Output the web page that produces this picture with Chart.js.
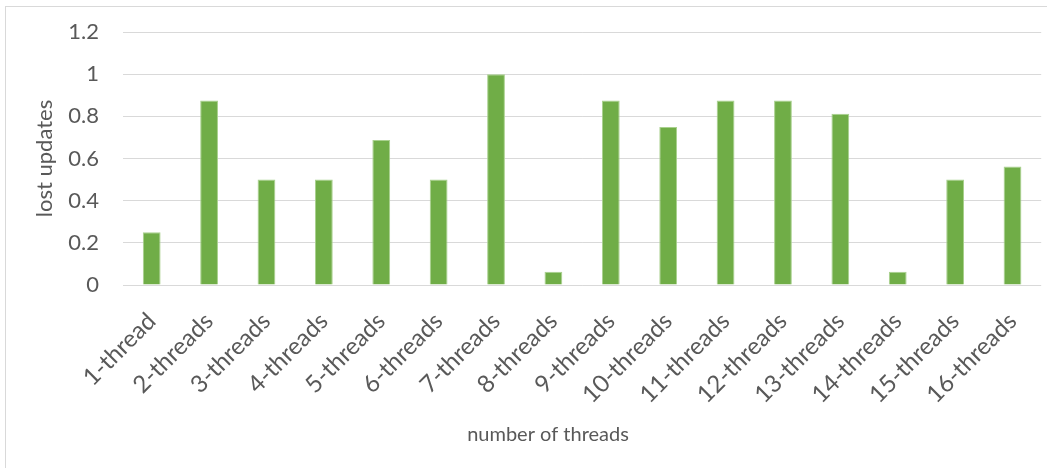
<!DOCTYPE html>
<html>
<head>
<meta charset="utf-8">
<script src="https://cdn.jsdelivr.net/npm/chart.js@4.4.0/dist/chart.umd.min.js"></script>
<style>
  html, body { margin: 0; padding: 0; background: #fff; }
  #wrap { position: relative; width: 1047px; height: 468px; }
</style>
</head>
<body>
<div id="wrap"><canvas id="chart"></canvas></div>
<script>
// data
const categories = [
    '1-thread', '2-threads', '3-threads', '4-threads', '5-threads', '6-threads',
    '7-threads', '8-threads', '9-threads', '10-threads', '11-threads', '12-threads',
    '13-threads', '14-threads', '15-threads', '16-threads'
];
const lostUpdates = [
    0.25, 0.875, 0.5, 0.5, 0.6875, 0.5, 1, 0.0625,
    0.875, 0.75, 0.875, 0.875, 0.8125, 0.0625, 0.5, 0.5625
];
const yTicks = [0, 0.2, 0.4, 0.6, 0.8, 1, 1.2];
const yTitle = 'lost updates';
const xTitle = 'number of threads';

const TEXT = '#595959';
const GRID = '#d9d9d9';
const FONT = 'Lato';

// white page with the thin grey frame round the chart
const framePlugin = {
    id: 'frame',
    beforeDraw(chart) {
        const ctx = chart.ctx;
        ctx.save();
        ctx.fillStyle = '#fff';
        ctx.fillRect(0, 0, chart.width, chart.height);
        ctx.strokeStyle = GRID;
        ctx.lineWidth = 1;
        ctx.strokeRect(5.5, 6.5, chart.width + 10, chart.height + 10);
        ctx.restore();
    }
};

// axis titles are placed by hand, like Excel does
const axisTitlesPlugin = {
    id: 'axisTitles',
    afterDraw(chart) {
        const ctx = chart.ctx;
        const area = chart.chartArea;
        ctx.save();
        ctx.fillStyle = TEXT;
        ctx.textAlign = 'center';
        ctx.textBaseline = 'middle';

        ctx.font = `20px ${FONT}`;
        ctx.fillText(xTitle, 548, 435);

        ctx.font = `22px ${FONT}`;
        ctx.translate(45, (area.top + area.bottom) / 2);
        ctx.rotate(-Math.PI / 2);
        ctx.fillText(yTitle, 0, 0);
        ctx.restore();
    }
};

const ctx = document.getElementById('chart').getContext('2d');
new Chart(ctx, {
    type: 'bar',
    data: {
        labels: categories,
        datasets: [{
            data: lostUpdates,
            backgroundColor: '#70ad47',
            borderColor: '#a9d18e',
            borderWidth: 1,
            categoryPercentage: 1,
            barPercentage: 0.31
        }]
    },
    options: {
        responsive: true,
        maintainAspectRatio: false,
        animation: false,
        layout: {
            padding: { top: 32, right: 4, bottom: 0, left: 0 }
        },
        plugins: {
            legend: { display: false },
            tooltip: { enabled: false }
        },
        scales: {
            x: {
                grid: { display: false },
                border: { display: false },
                ticks: {
                    autoSkip: false,
                    minRotation: 45,
                    maxRotation: 45,
                    padding: 14,
                    color: TEXT,
                    font: { family: FONT, size: 24 }
                },
                afterFit: (scale) => { scale.height = 183; }
            },
            y: {
                min: 0,
                max: 1.2,
                grid: {
                    color: GRID,
                    lineWidth: 1,
                    drawTicks: true,
                    tickLength: 8,
                    tickColor: 'rgba(0,0,0,0)'
                },
                border: { display: false },
                afterBuildTicks: (scale) => {
                    scale.ticks = yTicks.map(v => ({ value: v }));
                },
                ticks: {
                    padding: 16,
                    color: TEXT,
                    font: { family: FONT, size: 22 },
                    callback: (value) => String(Number(value.toFixed(1)))
                },
                afterFit: (scale) => { scale.width = 123; }
            }
        }
    },
    plugins: [framePlugin, axisTitlesPlugin]
});
</script>
</body>
</html>
